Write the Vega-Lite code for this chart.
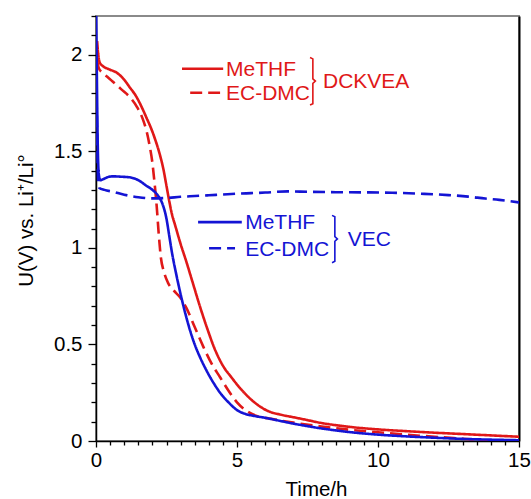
{
  "$schema": "https://vega.github.io/schema/vega-lite/v6.json",
  "width": 423,
  "height": 425,
  "autosize": {"type": "none"},
  "padding": {"left": 96, "top": 16, "right": 12, "bottom": 58},
  "background": "white",
  "config": {
    "view": {"stroke": "#8a8a8a", "strokeWidth": 2},
    "font": "Liberation Sans",
    "axis": {"grid": false, "labelFont": "Liberation Sans", "titleFont": "Liberation Sans", "labelColor": "black", "titleColor": "black", "titleFontWeight": "normal", "domainColor": "black", "tickColor": "black"}
  },
  "datasets": {
    "curves": [
      {"t": 0.04, "U": 2.07, "additive": "DCKVEA", "solvent": "MeTHF"},
      {"t": 0.08, "U": 2.0, "additive": "DCKVEA", "solvent": "MeTHF"},
      {"t": 0.13, "U": 1.96, "additive": "DCKVEA", "solvent": "MeTHF"},
      {"t": 0.25, "U": 1.94, "additive": "DCKVEA", "solvent": "MeTHF"},
      {"t": 0.45, "U": 1.925, "additive": "DCKVEA", "solvent": "MeTHF"},
      {"t": 0.75, "U": 1.905, "additive": "DCKVEA", "solvent": "MeTHF"},
      {"t": 1.0, "U": 1.87, "additive": "DCKVEA", "solvent": "MeTHF"},
      {"t": 1.2, "U": 1.83, "additive": "DCKVEA", "solvent": "MeTHF"},
      {"t": 1.4, "U": 1.79, "additive": "DCKVEA", "solvent": "MeTHF"},
      {"t": 1.6, "U": 1.735, "additive": "DCKVEA", "solvent": "MeTHF"},
      {"t": 1.8, "U": 1.67, "additive": "DCKVEA", "solvent": "MeTHF"},
      {"t": 1.95, "U": 1.62, "additive": "DCKVEA", "solvent": "MeTHF"},
      {"t": 2.1, "U": 1.56, "additive": "DCKVEA", "solvent": "MeTHF"},
      {"t": 2.25, "U": 1.49, "additive": "DCKVEA", "solvent": "MeTHF"},
      {"t": 2.4, "U": 1.4, "additive": "DCKVEA", "solvent": "MeTHF"},
      {"t": 2.5, "U": 1.32, "additive": "DCKVEA", "solvent": "MeTHF"},
      {"t": 2.6, "U": 1.24, "additive": "DCKVEA", "solvent": "MeTHF"},
      {"t": 2.7, "U": 1.17, "additive": "DCKVEA", "solvent": "MeTHF"},
      {"t": 2.8, "U": 1.12, "additive": "DCKVEA", "solvent": "MeTHF"},
      {"t": 3.0, "U": 1.02, "additive": "DCKVEA", "solvent": "MeTHF"},
      {"t": 3.2, "U": 0.93, "additive": "DCKVEA", "solvent": "MeTHF"},
      {"t": 3.45, "U": 0.81, "additive": "DCKVEA", "solvent": "MeTHF"},
      {"t": 3.7, "U": 0.69, "additive": "DCKVEA", "solvent": "MeTHF"},
      {"t": 3.95, "U": 0.58, "additive": "DCKVEA", "solvent": "MeTHF"},
      {"t": 4.2, "U": 0.48, "additive": "DCKVEA", "solvent": "MeTHF"},
      {"t": 4.5, "U": 0.39, "additive": "DCKVEA", "solvent": "MeTHF"},
      {"t": 4.8, "U": 0.33, "additive": "DCKVEA", "solvent": "MeTHF"},
      {"t": 5.1, "U": 0.275, "additive": "DCKVEA", "solvent": "MeTHF"},
      {"t": 5.5, "U": 0.215, "additive": "DCKVEA", "solvent": "MeTHF"},
      {"t": 5.8, "U": 0.18, "additive": "DCKVEA", "solvent": "MeTHF"},
      {"t": 6.1, "U": 0.155, "additive": "DCKVEA", "solvent": "MeTHF"},
      {"t": 6.5, "U": 0.138, "additive": "DCKVEA", "solvent": "MeTHF"},
      {"t": 7.0, "U": 0.123, "additive": "DCKVEA", "solvent": "MeTHF"},
      {"t": 7.5, "U": 0.108, "additive": "DCKVEA", "solvent": "MeTHF"},
      {"t": 8.0, "U": 0.093, "additive": "DCKVEA", "solvent": "MeTHF"},
      {"t": 8.5, "U": 0.082, "additive": "DCKVEA", "solvent": "MeTHF"},
      {"t": 9.0, "U": 0.073, "additive": "DCKVEA", "solvent": "MeTHF"},
      {"t": 10.0, "U": 0.06, "additive": "DCKVEA", "solvent": "MeTHF"},
      {"t": 11.0, "U": 0.051, "additive": "DCKVEA", "solvent": "MeTHF"},
      {"t": 12.0, "U": 0.043, "additive": "DCKVEA", "solvent": "MeTHF"},
      {"t": 13.0, "U": 0.036, "additive": "DCKVEA", "solvent": "MeTHF"},
      {"t": 14.0, "U": 0.029, "additive": "DCKVEA", "solvent": "MeTHF"},
      {"t": 15.0, "U": 0.022, "additive": "DCKVEA", "solvent": "MeTHF"},

      {"t": 0.04, "U": 1.97, "additive": "DCKVEA", "solvent": "EC-DMC"},
      {"t": 0.1, "U": 1.93, "additive": "DCKVEA", "solvent": "EC-DMC"},
      {"t": 0.2, "U": 1.91, "additive": "DCKVEA", "solvent": "EC-DMC"},
      {"t": 0.4, "U": 1.885, "additive": "DCKVEA", "solvent": "EC-DMC"},
      {"t": 0.6, "U": 1.86, "additive": "DCKVEA", "solvent": "EC-DMC"},
      {"t": 0.9, "U": 1.82, "additive": "DCKVEA", "solvent": "EC-DMC"},
      {"t": 1.2, "U": 1.78, "additive": "DCKVEA", "solvent": "EC-DMC"},
      {"t": 1.45, "U": 1.73, "additive": "DCKVEA", "solvent": "EC-DMC"},
      {"t": 1.65, "U": 1.67, "additive": "DCKVEA", "solvent": "EC-DMC"},
      {"t": 1.8, "U": 1.6, "additive": "DCKVEA", "solvent": "EC-DMC"},
      {"t": 1.9, "U": 1.53, "additive": "DCKVEA", "solvent": "EC-DMC"},
      {"t": 2.0, "U": 1.44, "additive": "DCKVEA", "solvent": "EC-DMC"},
      {"t": 2.08, "U": 1.33, "additive": "DCKVEA", "solvent": "EC-DMC"},
      {"t": 2.15, "U": 1.22, "additive": "DCKVEA", "solvent": "EC-DMC"},
      {"t": 2.22, "U": 1.08, "additive": "DCKVEA", "solvent": "EC-DMC"},
      {"t": 2.3, "U": 0.95, "additive": "DCKVEA", "solvent": "EC-DMC"},
      {"t": 2.4, "U": 0.88, "additive": "DCKVEA", "solvent": "EC-DMC"},
      {"t": 2.55, "U": 0.82, "additive": "DCKVEA", "solvent": "EC-DMC"},
      {"t": 2.75, "U": 0.78, "additive": "DCKVEA", "solvent": "EC-DMC"},
      {"t": 3.0, "U": 0.74, "additive": "DCKVEA", "solvent": "EC-DMC"},
      {"t": 3.2, "U": 0.69, "additive": "DCKVEA", "solvent": "EC-DMC"},
      {"t": 3.5, "U": 0.59, "additive": "DCKVEA", "solvent": "EC-DMC"},
      {"t": 3.8, "U": 0.49, "additive": "DCKVEA", "solvent": "EC-DMC"},
      {"t": 4.1, "U": 0.4, "additive": "DCKVEA", "solvent": "EC-DMC"},
      {"t": 4.4, "U": 0.33, "additive": "DCKVEA", "solvent": "EC-DMC"},
      {"t": 4.7, "U": 0.26, "additive": "DCKVEA", "solvent": "EC-DMC"},
      {"t": 5.0, "U": 0.2, "additive": "DCKVEA", "solvent": "EC-DMC"},
      {"t": 5.35, "U": 0.155, "additive": "DCKVEA", "solvent": "EC-DMC"},
      {"t": 5.7, "U": 0.13, "additive": "DCKVEA", "solvent": "EC-DMC"},
      {"t": 6.2, "U": 0.115, "additive": "DCKVEA", "solvent": "EC-DMC"},
      {"t": 7.0, "U": 0.095, "additive": "DCKVEA", "solvent": "EC-DMC"},
      {"t": 8.0, "U": 0.075, "additive": "DCKVEA", "solvent": "EC-DMC"},
      {"t": 9.0, "U": 0.058, "additive": "DCKVEA", "solvent": "EC-DMC"},
      {"t": 10.0, "U": 0.045, "additive": "DCKVEA", "solvent": "EC-DMC"},
      {"t": 11.0, "U": 0.033, "additive": "DCKVEA", "solvent": "EC-DMC"},
      {"t": 12.0, "U": 0.022, "additive": "DCKVEA", "solvent": "EC-DMC"},
      {"t": 13.0, "U": 0.012, "additive": "DCKVEA", "solvent": "EC-DMC"},
      {"t": 13.8, "U": 0.004, "additive": "DCKVEA", "solvent": "EC-DMC"},
      {"t": 15.0, "U": 0.0, "additive": "DCKVEA", "solvent": "EC-DMC"},

      {"t": 0.0, "U": 2.3, "additive": "VEC", "solvent": "MeTHF"},
      {"t": 0.03, "U": 1.9, "additive": "VEC", "solvent": "MeTHF"},
      {"t": 0.06, "U": 1.55, "additive": "VEC", "solvent": "MeTHF"},
      {"t": 0.1, "U": 1.38, "additive": "VEC", "solvent": "MeTHF"},
      {"t": 0.15, "U": 1.35, "additive": "VEC", "solvent": "MeTHF"},
      {"t": 0.25, "U": 1.355, "additive": "VEC", "solvent": "MeTHF"},
      {"t": 0.4, "U": 1.365, "additive": "VEC", "solvent": "MeTHF"},
      {"t": 0.6, "U": 1.37, "additive": "VEC", "solvent": "MeTHF"},
      {"t": 0.9, "U": 1.368, "additive": "VEC", "solvent": "MeTHF"},
      {"t": 1.2, "U": 1.365, "additive": "VEC", "solvent": "MeTHF"},
      {"t": 1.5, "U": 1.35, "additive": "VEC", "solvent": "MeTHF"},
      {"t": 1.8, "U": 1.32, "additive": "VEC", "solvent": "MeTHF"},
      {"t": 2.0, "U": 1.3, "additive": "VEC", "solvent": "MeTHF"},
      {"t": 2.2, "U": 1.27, "additive": "VEC", "solvent": "MeTHF"},
      {"t": 2.35, "U": 1.23, "additive": "VEC", "solvent": "MeTHF"},
      {"t": 2.5, "U": 1.15, "additive": "VEC", "solvent": "MeTHF"},
      {"t": 2.6, "U": 1.06, "additive": "VEC", "solvent": "MeTHF"},
      {"t": 2.7, "U": 0.97, "additive": "VEC", "solvent": "MeTHF"},
      {"t": 2.85, "U": 0.86, "additive": "VEC", "solvent": "MeTHF"},
      {"t": 3.0, "U": 0.76, "additive": "VEC", "solvent": "MeTHF"},
      {"t": 3.15, "U": 0.67, "additive": "VEC", "solvent": "MeTHF"},
      {"t": 3.3, "U": 0.59, "additive": "VEC", "solvent": "MeTHF"},
      {"t": 3.5, "U": 0.5, "additive": "VEC", "solvent": "MeTHF"},
      {"t": 3.7, "U": 0.43, "additive": "VEC", "solvent": "MeTHF"},
      {"t": 3.9, "U": 0.37, "additive": "VEC", "solvent": "MeTHF"},
      {"t": 4.15, "U": 0.305, "additive": "VEC", "solvent": "MeTHF"},
      {"t": 4.4, "U": 0.25, "additive": "VEC", "solvent": "MeTHF"},
      {"t": 4.7, "U": 0.2, "additive": "VEC", "solvent": "MeTHF"},
      {"t": 5.0, "U": 0.16, "additive": "VEC", "solvent": "MeTHF"},
      {"t": 5.3, "U": 0.14, "additive": "VEC", "solvent": "MeTHF"},
      {"t": 5.6, "U": 0.13, "additive": "VEC", "solvent": "MeTHF"},
      {"t": 6.0, "U": 0.12, "additive": "VEC", "solvent": "MeTHF"},
      {"t": 6.5, "U": 0.105, "additive": "VEC", "solvent": "MeTHF"},
      {"t": 7.0, "U": 0.09, "additive": "VEC", "solvent": "MeTHF"},
      {"t": 7.5, "U": 0.077, "additive": "VEC", "solvent": "MeTHF"},
      {"t": 8.0, "U": 0.065, "additive": "VEC", "solvent": "MeTHF"},
      {"t": 8.5, "U": 0.055, "additive": "VEC", "solvent": "MeTHF"},
      {"t": 9.0, "U": 0.046, "additive": "VEC", "solvent": "MeTHF"},
      {"t": 10.0, "U": 0.033, "additive": "VEC", "solvent": "MeTHF"},
      {"t": 11.0, "U": 0.024, "additive": "VEC", "solvent": "MeTHF"},
      {"t": 12.0, "U": 0.017, "additive": "VEC", "solvent": "MeTHF"},
      {"t": 13.0, "U": 0.011, "additive": "VEC", "solvent": "MeTHF"},
      {"t": 14.0, "U": 0.007, "additive": "VEC", "solvent": "MeTHF"},
      {"t": 15.0, "U": 0.004, "additive": "VEC", "solvent": "MeTHF"},

      {"t": 0.02, "U": 1.78, "additive": "VEC", "solvent": "EC-DMC"},
      {"t": 0.05, "U": 1.5, "additive": "VEC", "solvent": "EC-DMC"},
      {"t": 0.08, "U": 1.34, "additive": "VEC", "solvent": "EC-DMC"},
      {"t": 0.12, "U": 1.31, "additive": "VEC", "solvent": "EC-DMC"},
      {"t": 0.3, "U": 1.3, "additive": "VEC", "solvent": "EC-DMC"},
      {"t": 0.6, "U": 1.29, "additive": "VEC", "solvent": "EC-DMC"},
      {"t": 1.0, "U": 1.275, "additive": "VEC", "solvent": "EC-DMC"},
      {"t": 1.5, "U": 1.262, "additive": "VEC", "solvent": "EC-DMC"},
      {"t": 2.0, "U": 1.256, "additive": "VEC", "solvent": "EC-DMC"},
      {"t": 2.5, "U": 1.258, "additive": "VEC", "solvent": "EC-DMC"},
      {"t": 3.0, "U": 1.264, "additive": "VEC", "solvent": "EC-DMC"},
      {"t": 3.5, "U": 1.268, "additive": "VEC", "solvent": "EC-DMC"},
      {"t": 4.0, "U": 1.272, "additive": "VEC", "solvent": "EC-DMC"},
      {"t": 4.5, "U": 1.276, "additive": "VEC", "solvent": "EC-DMC"},
      {"t": 5.0, "U": 1.28, "additive": "VEC", "solvent": "EC-DMC"},
      {"t": 5.5, "U": 1.283, "additive": "VEC", "solvent": "EC-DMC"},
      {"t": 6.0, "U": 1.286, "additive": "VEC", "solvent": "EC-DMC"},
      {"t": 6.8, "U": 1.292, "additive": "VEC", "solvent": "EC-DMC"},
      {"t": 7.5, "U": 1.29, "additive": "VEC", "solvent": "EC-DMC"},
      {"t": 8.5, "U": 1.288, "additive": "VEC", "solvent": "EC-DMC"},
      {"t": 9.5, "U": 1.287, "additive": "VEC", "solvent": "EC-DMC"},
      {"t": 10.5, "U": 1.285, "additive": "VEC", "solvent": "EC-DMC"},
      {"t": 11.5, "U": 1.28, "additive": "VEC", "solvent": "EC-DMC"},
      {"t": 12.5, "U": 1.273, "additive": "VEC", "solvent": "EC-DMC"},
      {"t": 13.2, "U": 1.265, "additive": "VEC", "solvent": "EC-DMC"},
      {"t": 13.8, "U": 1.255, "additive": "VEC", "solvent": "EC-DMC"},
      {"t": 14.3, "U": 1.248, "additive": "VEC", "solvent": "EC-DMC"},
      {"t": 15.0, "U": 1.235, "additive": "VEC", "solvent": "EC-DMC"}
    ],
    "keylines": [
      {"t1": 3.05, "t2": 4.51, "U": 1.927, "additive": "DCKVEA", "solvent": "MeTHF"},
      {"t1": 3.34, "t2": 4.4, "U": 1.803, "additive": "DCKVEA", "solvent": "EC-DMC"},
      {"t1": 3.62, "t2": 5.17, "U": 1.133, "additive": "VEC", "solvent": "MeTHF"},
      {"t1": 4.01, "t2": 4.93, "U": 0.998, "additive": "VEC", "solvent": "EC-DMC"}
    ],
    "keytext": [
      {"t": 4.61, "U": 1.889, "label": "MeTHF", "additive": "DCKVEA"},
      {"t": 4.61, "U": 1.765, "label": "EC-DMC", "additive": "DCKVEA"},
      {"t": 8.05, "U": 1.825, "label": "DCKVEA", "additive": "DCKVEA"},
      {"t": 5.29, "U": 1.095, "label": "MeTHF", "additive": "VEC"},
      {"t": 5.29, "U": 0.96, "label": "EC-DMC", "additive": "VEC"},
      {"t": 8.93, "U": 1.008, "label": "VEC", "additive": "VEC"}
    ],
    "brackets": [
      {"t": 7.59, "U": 1.985, "k": 0, "additive": "DCKVEA"},
      {"t": 7.69, "U": 1.978, "k": 1, "additive": "DCKVEA"},
      {"t": 7.69, "U": 1.875, "k": 2, "additive": "DCKVEA"},
      {"t": 7.78, "U": 1.863, "k": 3, "additive": "DCKVEA"},
      {"t": 7.69, "U": 1.851, "k": 4, "additive": "DCKVEA"},
      {"t": 7.69, "U": 1.746, "k": 5, "additive": "DCKVEA"},
      {"t": 7.59, "U": 1.739, "k": 6, "additive": "DCKVEA"},
      {"t": 8.37, "U": 1.168, "k": 0, "additive": "VEC"},
      {"t": 8.47, "U": 1.161, "k": 1, "additive": "VEC"},
      {"t": 8.47, "U": 1.058, "k": 2, "additive": "VEC"},
      {"t": 8.56, "U": 1.046, "k": 3, "additive": "VEC"},
      {"t": 8.47, "U": 1.034, "k": 4, "additive": "VEC"},
      {"t": 8.47, "U": 0.93, "k": 5, "additive": "VEC"},
      {"t": 8.37, "U": 0.923, "k": 6, "additive": "VEC"}
    ]
  },
  "resolve": {"axis": {"x": "independent", "y": "independent"}},
  "layer": [
    {
      "data": {"name": "curves"},
      "mark": {"type": "line", "strokeWidth": 2.6, "clip": true, "interpolate": "monotone"},
      "encoding": {
        "x": {
          "field": "t", "type": "quantitative",
          "scale": {"domain": [0, 15], "nice": false},
          "axis": {
            "title": "Time/h",
            "values": [0, 0.5, 1, 1.5, 2, 2.5, 3, 3.5, 4, 4.5, 5, 5.5, 6, 6.5, 7, 7.5, 8, 8.5, 9, 9.5, 10, 10.5, 11, 11.5, 12, 12.5, 13, 13.5, 14, 14.5, 15],
            "labelExpr": "datum.value % 5 === 0 ? format(datum.value, 'd') : ''",
            "labelFontSize": 20.5,
            "labelPadding": 3,
            "labelOverlap": false,
            "labelFlush": false,
            "tickSize": {"condition": {"test": "datum.value % 5 === 0", "value": 6}, "value": 4},
            "tickWidth": 1.3,
            "domainWidth": 1.5,
            "titleFontSize": 20.5,
            "titleX": 220,
            "titleY": 54,
            "titleAlign": "center",
            "titleBaseline": "alphabetic"
          }
        },
        "y": {
          "field": "U", "type": "quantitative",
          "scale": {"domain": [0, 2.2], "nice": false},
          "axis": {
            "title": "U(V) vs. Li⁺/Li°",
            "values": [0, 0.1, 0.2, 0.3, 0.4, 0.5, 0.6, 0.7, 0.8, 0.9, 1, 1.1, 1.2, 1.3, 1.4, 1.5, 1.6, 1.7, 1.8, 1.9, 2, 2.1, 2.2],
            "labelExpr": "abs(datum.value * 2 - round(datum.value * 2)) < 0.001 ? format(datum.value, '~g') : ''",
            "labelFontSize": 20.5,
            "labelPadding": 6,
            "labelOverlap": false,
            "labelFlush": false,
            "tickSize": {"condition": {"test": "abs(datum.value * 2 - round(datum.value * 2)) < 0.001", "value": 8}, "value": 5},
            "tickWidth": 1.3,
            "domainWidth": 1.5,
            "titleFontSize": 20.5,
            "titleX": -64,
            "titleY": 204,
            "titleAngle": -90,
            "titleAlign": "center",
            "titleBaseline": "alphabetic"
          }
        },
        "color": {"field": "additive", "type": "nominal", "scale": {"domain": ["DCKVEA", "VEC"], "range": ["#e01818", "#1414d4"]}, "legend": null},
        "strokeDash": {"field": "solvent", "type": "nominal", "scale": {"domain": ["MeTHF", "EC-DMC"], "range": [[1, 0], [12, 6]]}, "legend": null}
      }
    },
    {
      "data": {"name": "keylines"},
      "mark": {"type": "rule", "strokeWidth": 2.6},
      "encoding": {
        "x": {"field": "t1", "type": "quantitative", "axis": null},
        "x2": {"field": "t2"},
        "y": {"field": "U", "type": "quantitative", "axis": {"orient": "right", "title": null, "labels": false, "ticks": false, "domainColor": "black", "domainWidth": 2, "grid": false}},
        "color": {"field": "additive", "type": "nominal", "legend": null},
        "strokeDash": {"field": "solvent", "type": "nominal", "legend": null}
      }
    },
    {
      "data": {"name": "brackets"},
      "mark": {"type": "line", "strokeWidth": 1.6},
      "encoding": {
        "x": {"field": "t", "type": "quantitative", "axis": null},
        "y": {"field": "U", "type": "quantitative", "axis": null},
        "order": {"field": "k", "type": "quantitative"},
        "detail": {"field": "additive", "type": "nominal"},
        "color": {"field": "additive", "type": "nominal", "legend": null}
      }
    },
    {
      "data": {"name": "keytext"},
      "mark": {"type": "text", "align": "left", "baseline": "alphabetic", "fontSize": 21, "font": "Liberation Sans"},
      "encoding": {
        "x": {"field": "t", "type": "quantitative", "axis": null},
        "y": {"field": "U", "type": "quantitative", "axis": null},
        "text": {"field": "label", "type": "nominal"},
        "color": {"field": "additive", "type": "nominal", "legend": null}
      }
    }
  ]
}
